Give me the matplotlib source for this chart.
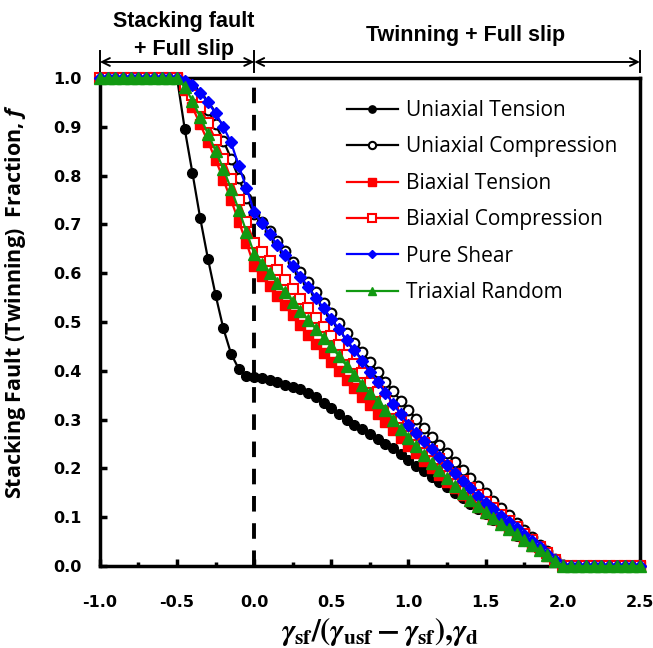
import numpy as np
import matplotlib.pyplot as plt

plt.rcParams['mathtext.fontset'] = 'custom'
plt.rcParams['mathtext.rm'] = 'STIXGeneral:bold'
plt.rcParams['mathtext.it'] = 'STIXGeneral:italic:bold'
plt.rcParams['mathtext.bf'] = 'STIXGeneral:bold'
plt.rcParams['mathtext.sf'] = 'Open Sans:italic:bold'

# sample positions
x_vals = [-1.0, -0.95, -0.9, -0.85, -0.8, -0.75, -0.7, -0.65, -0.6, -0.55, -0.5,
          -0.45, -0.4, -0.35, -0.3, -0.25, -0.2, -0.15, -0.1, -0.05, 0.0,
          0.05, 0.1, 0.15, 0.2, 0.25, 0.3, 0.35, 0.4, 0.45, 0.5,
          0.55, 0.6, 0.65, 0.7, 0.75, 0.8, 0.85, 0.9, 0.95, 1.0,
          1.05, 1.1, 1.15, 1.2, 1.25, 1.3, 1.35, 1.4, 1.45, 1.5,
          1.55, 1.6, 1.65, 1.7, 1.75, 1.8, 1.85, 1.9, 1.95, 2.0,
          2.05, 2.1, 2.15, 2.2, 2.25, 2.3, 2.35, 2.4, 2.45, 2.5]

uni_tension = [1.0, 1.0, 1.0, 1.0, 1.0, 1.0, 1.0, 1.0, 1.0, 1.0, 1.0,
               0.895, 0.805, 0.713, 0.630, 0.555, 0.487, 0.435, 0.404, 0.390, 0.387,
               0.385, 0.381, 0.377, 0.372, 0.367, 0.362, 0.355, 0.346, 0.335, 0.323,
               0.311, 0.300, 0.290, 0.280, 0.270, 0.260, 0.251, 0.242, 0.230, 0.217,
               0.205, 0.194, 0.183, 0.172, 0.161, 0.150, 0.139, 0.128, 0.117, 0.106,
               0.095, 0.084, 0.073, 0.062, 0.051, 0.041, 0.030, 0.020, 0.010, 0.0,
               0.0, 0.0, 0.0, 0.0, 0.0, 0.0, 0.0, 0.0, 0.0, 0.0]

uni_compression = [1.0, 1.0, 1.0, 1.0, 1.0, 1.0, 1.0, 1.0, 1.0, 1.0, 1.0,
                   0.992, 0.978, 0.958, 0.935, 0.905, 0.872, 0.835, 0.795, 0.755, 0.722,
                   0.705, 0.686, 0.666, 0.645, 0.624, 0.603, 0.582, 0.561, 0.540, 0.519,
                   0.498, 0.478, 0.458, 0.438, 0.418, 0.398, 0.378, 0.358, 0.339, 0.320,
                   0.301, 0.283, 0.265, 0.248, 0.231, 0.214, 0.197, 0.181, 0.165, 0.149,
                   0.134, 0.119, 0.104, 0.089, 0.074, 0.059, 0.044, 0.030, 0.015, 0.0,
                   0.0, 0.0, 0.0, 0.0, 0.0, 0.0, 0.0, 0.0, 0.0, 0.0]

bi_tension = [1.0, 1.0, 1.0, 1.0, 1.0, 1.0, 1.0, 1.0, 1.0, 1.0, 1.0,
              0.975, 0.940, 0.905, 0.870, 0.833, 0.792, 0.750, 0.706, 0.662, 0.615,
              0.594, 0.574, 0.554, 0.534, 0.514, 0.494, 0.474, 0.455, 0.436, 0.418,
              0.400, 0.382, 0.364, 0.346, 0.329, 0.312, 0.295, 0.278, 0.262, 0.246,
              0.231, 0.216, 0.201, 0.187, 0.173, 0.159, 0.146, 0.133, 0.120, 0.108,
              0.097, 0.086, 0.075, 0.064, 0.053, 0.042, 0.032, 0.021, 0.010, 0.0,
              0.0, 0.0, 0.0, 0.0, 0.0, 0.0, 0.0, 0.0, 0.0, 0.0]

bi_compression = [1.0, 1.0, 1.0, 1.0, 1.0, 1.0, 1.0, 1.0, 1.0, 1.0, 1.0,
                  0.985, 0.965, 0.940, 0.907, 0.873, 0.835, 0.793, 0.750, 0.705, 0.663,
                  0.644, 0.625, 0.606, 0.586, 0.567, 0.547, 0.528, 0.509, 0.490, 0.471,
                  0.452, 0.433, 0.414, 0.395, 0.376, 0.357, 0.339, 0.321, 0.303, 0.286,
                  0.269, 0.252, 0.236, 0.220, 0.204, 0.189, 0.174, 0.160, 0.146, 0.132,
                  0.118, 0.105, 0.092, 0.079, 0.066, 0.053, 0.040, 0.027, 0.013, 0.0,
                  0.0, 0.0, 0.0, 0.0, 0.0, 0.0, 0.0, 0.0, 0.0, 0.0]

pure_shear = [1.0, 1.0, 1.0, 1.0, 1.0, 1.0, 1.0, 1.0, 1.0, 1.0, 1.0,
              0.995, 0.985, 0.970, 0.950, 0.928, 0.900, 0.868, 0.820, 0.775, 0.725,
              0.702, 0.680, 0.658, 0.637, 0.615, 0.593, 0.572, 0.550, 0.528, 0.507,
              0.485, 0.463, 0.442, 0.420, 0.398, 0.377, 0.355, 0.333, 0.311, 0.290,
              0.273, 0.256, 0.240, 0.224, 0.207, 0.191, 0.175, 0.159, 0.144, 0.130,
              0.117, 0.103, 0.090, 0.077, 0.064, 0.051, 0.038, 0.025, 0.012, 0.0,
              0.0, 0.0, 0.0, 0.0, 0.0, 0.0, 0.0, 0.0, 0.0, 0.0]

tri_random = [1.0, 1.0, 1.0, 1.0, 1.0, 1.0, 1.0, 1.0, 1.0, 1.0, 1.0,
              0.982, 0.953, 0.920, 0.886, 0.851, 0.814, 0.773, 0.730, 0.685, 0.640,
              0.619, 0.600, 0.580, 0.561, 0.542, 0.523, 0.504, 0.486, 0.468, 0.450,
              0.430, 0.410, 0.391, 0.372, 0.355, 0.337, 0.320, 0.300, 0.281, 0.262,
              0.245, 0.228, 0.212, 0.196, 0.180, 0.165, 0.150, 0.136, 0.122, 0.110,
              0.098, 0.087, 0.076, 0.065, 0.054, 0.043, 0.032, 0.022, 0.011, 0.0,
              0.0, 0.0, 0.0, 0.0, 0.0, 0.0, 0.0, 0.0, 0.0, 0.0]

labels = ["Uniaxial Tension", "Uniaxial Compression", "Biaxial Tension",
          "Biaxial Compression", "Pure Shear", "Triaxial Random"]
x_ticks = [-1.0, -0.5, 0.0, 0.5, 1.0, 1.5, 2.0, 2.5]
y_ticks = [0.0, 0.1, 0.2, 0.3, 0.4, 0.5, 0.6, 0.7, 0.8, 0.9, 1.0]

fig = plt.figure(figsize=(6.53, 6.48), dpi=100)
ax = fig.add_axes([0.153, 0.1265, 0.827, 0.753])

styles = [
    dict(color="black", marker="o", ms=7, mfc="black", mec="black"),
    dict(color="black", marker="o", ms=7, mfc="white", mec="black", mew=1.5),
    dict(color="red", marker="s", ms=7, mfc="red", mec="red"),
    dict(color="red", marker="s", ms=7, mfc="white", mec="red", mew=1.5),
    dict(color="blue", marker="D", ms=6, mfc="blue", mec="blue"),
    dict(color="#119911", marker="^", ms=8.5, mfc="#119911", mec="#119911"),
]
series = [uni_tension, uni_compression, bi_tension, bi_compression, pure_shear, tri_random]
for i, (ys, lab, st) in enumerate(zip(series, labels, styles)):
    ax.plot(x_vals, ys, lw=1.6, label=lab, clip_on=False, zorder=5 + i, **st)

ax.set_xlim(-1.0, 2.5)
ax.set_ylim(0.0, 1.0)
ax.set_xticks(x_ticks)
ax.set_xticks([-0.75, -0.25, 0.25, 0.75, 1.25, 1.75, 2.25], minor=True)
ax.set_yticks(y_ticks)
ax.set_xticklabels([f"{t:.1f}" for t in x_ticks])
ax.set_yticklabels([f"{t:.1f}" for t in y_ticks])
ax.tick_params(which="major", direction="in", length=5, width=2.5, labelsize=11.5)
ax.tick_params(axis="x", which="major", pad=21)
ax.tick_params(axis="y", which="major", pad=13)
ax.tick_params(which="minor", direction="in", length=3, width=2.5)
for lbl in ax.get_xticklabels() + ax.get_yticklabels():
    lbl.set_fontweight("bold")
for sp in ax.spines.values():
    sp.set_linewidth(2.5)

ax.axvline(0.0, color="black", lw=2.8, ls=(0, (4, 3)), zorder=3)

ax.legend(loc="upper left", bbox_to_anchor=(0.457, 0.955), frameon=False,
          prop={"family": "Open Sans", "size": 15}, handlelength=2.45,
          labelspacing=0.74, handletextpad=0.4, markerscale=0.75,
          borderpad=0, borderaxespad=0)

ax.set_ylabel(r"Stacking Fault (Twinning)  Fraction, $\mathsf{f}$",
              family="Open Sans", fontweight="bold", fontsize=15.5)
ax.yaxis.set_label_coords(-0.133, 0.541)
ax.set_xlabel(r"$\gamma_{\mathrm{sf}}/(\gamma_{\mathrm{usf}}-\gamma_{\mathrm{sf}}){,}\gamma_{\mathrm{d}}$",
              fontsize=22)
ax.xaxis.set_label_coords(0.519, -0.1)

# region annotations above the axes
arr_y = 1.033
for x0, x1 in [(-1.0, 0.0), (0.0, 2.5)]:
    ax.annotate("", xy=(x1, arr_y), xytext=(x0, arr_y), xycoords="data",
                arrowprops=dict(arrowstyle="<->", lw=1.4, color="black",
                                shrinkA=0, shrinkB=0, mutation_scale=14),
                annotation_clip=False)
for xb in [-1.0, 0.0, 2.5]:
    ax.plot([xb, xb], [1.012, 1.055], color="black", lw=1.4, clip_on=False)

ax.text(-0.46, 1.115, "Stacking fault", ha="center", va="center",
        family="Liberation Sans", fontweight="bold", fontsize=15.5)
ax.text(-0.455, 1.059, "+ Full slip", ha="center", va="center",
        family="Liberation Sans", fontweight="bold", fontsize=15.5)
ax.text(1.37, 1.087, "Twinning + Full slip", ha="center", va="center",
        family="Liberation Sans", fontweight="bold", fontsize=15.5)

fig.savefig("out.png", dpi=100)
